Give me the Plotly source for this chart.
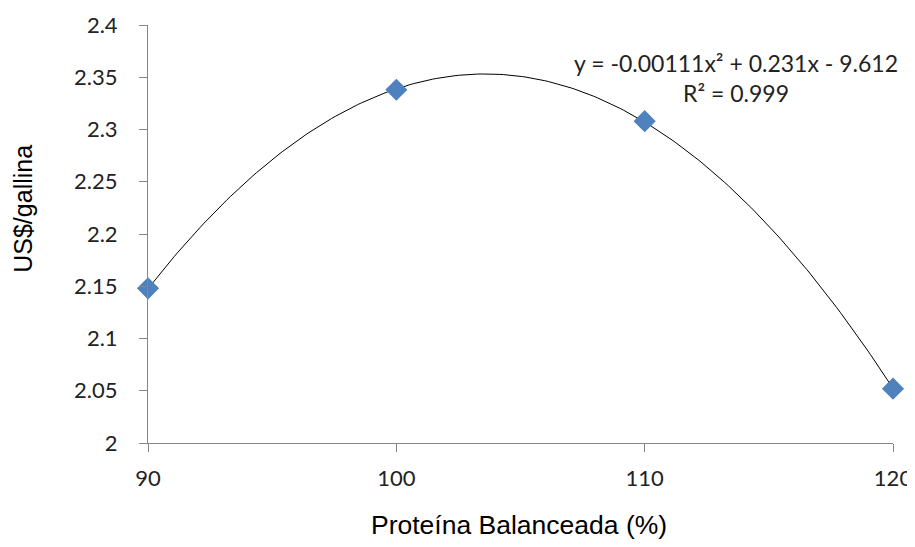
import numpy as np
import plotly.graph_objects as go

protein = [90, 100, 110, 120]
cost = [2.148, 2.338, 2.308, 2.052]
y_ticks = [2, 2.05, 2.1, 2.15, 2.2, 2.25, 2.3, 2.35, 2.4]
y_tick_labels = ["2", "2.05", "2.1", "2.15", "2.2", "2.25", "2.3", "2.35", "2.4"]
x_ticks = [90, 100, 110, 120]

coef = np.polyfit(protein, cost, 2)
xs = np.linspace(min(protein), max(protein), 200)
ys = np.polyval(coef, xs)

fig = go.Figure()
fig.add_trace(go.Scatter(x=xs, y=ys, mode="lines",
                         line=dict(color="#000000", width=1), hoverinfo="skip", showlegend=False))
fig.add_trace(go.Scatter(x=protein, y=cost, mode="markers", cliponaxis=False,
                         marker=dict(symbol="diamond", size=17, color="#4F81BD",
                                     line=dict(width=0)), showlegend=False))

fig.add_annotation(x=0.789, y=0.874, xref="paper", yref="paper",
                   xanchor="center", yanchor="middle",
                   text="y = -0.00111x² + 0.231x - 9.612<br>R² = 0.999",
                   showarrow=False, align="center",
                   font=dict(family="Lato", size=23, color="#222222"))
fig.add_annotation(x=0.5 * (372 + 665 - 2 * 148) / 745, y=-0.196, xref="paper", yref="paper",
                   text="Proteína Balanceada (%)", showarrow=False,
                   xanchor="center", yanchor="middle",
                   font=dict(family="Liberation Sans", size=26.5, color="#000000"))
fig.add_annotation(x=-0.168, y=0.56, xref="paper", yref="paper",
                   text="US$/gallina", showarrow=False, textangle=-90,
                   xanchor="center", yanchor="middle",
                   font=dict(family="Liberation Sans", size=25, color="#000000"))

axis_line = "#868686"
fig.update_layout(
    width=907, height=539,
    margin=dict(l=140, r=22, t=17, b=104),
    paper_bgcolor="white", plot_bgcolor="white",
    xaxis=dict(range=[90, 120], tickvals=x_ticks, ticktext=[str(v) for v in x_ticks],
               automargin=False,
               showgrid=False, zeroline=False, showline=True, linecolor=axis_line,
               ticks="outside", ticklen=8, tickcolor=axis_line, ticklabelstandoff=8,
               tickfont=dict(family="Lato", size=22, color="#222222")),
    yaxis=dict(range=[2, 2.4], tickvals=y_ticks, ticktext=y_tick_labels,
               automargin=False,
               showgrid=False, zeroline=False, showline=True, linecolor=axis_line,
               ticks="outside", ticklen=8, tickcolor=axis_line, ticklabelstandoff=17,
               tickfont=dict(family="Lato", size=22, color="#222222")),
)

fig.write_html("out.html")
